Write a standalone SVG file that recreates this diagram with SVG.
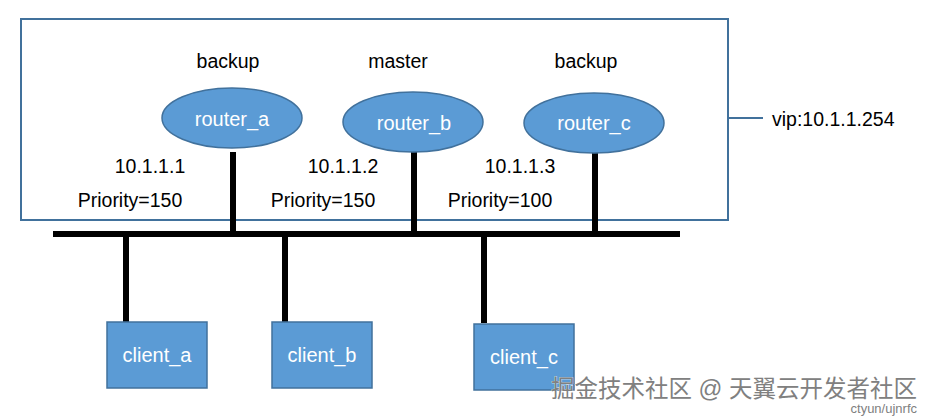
<svg xmlns="http://www.w3.org/2000/svg" width="930" height="416" viewBox="0 0 930 416">
<style>
.t{font-family:"Liberation Sans",Arial,sans-serif;font-size:19.5px;fill:#000}
.w{font-family:"Liberation Sans",Arial,sans-serif;font-size:20px;fill:#fff;text-anchor:middle}
.node{fill:#5b9bd5;stroke:#41719c;stroke-width:1.5}
.wire{stroke:#000;stroke-width:6;fill:none}
.wm{font-family:"Liberation Sans","Noto Sans CJK SC",sans-serif;fill:#808080;stroke:#fff;stroke-width:0.6;paint-order:stroke}
</style>
<rect x="0" y="0" width="930" height="416" fill="#fff"/>
<g id="vrrp-group">
<rect x="21" y="19" width="707" height="201" fill="none" stroke="#41719c" stroke-width="2"/>
<line x1="728" y1="118" x2="763" y2="118" stroke="#41719c" stroke-width="2"/>
<text class="t" x="772" y="126">vip:10.1.1.254</text>
</g>
<g id="connectors">
<line class="wire" x1="53" y1="234" x2="680" y2="234" stroke-width="7"/>
<line class="wire" x1="233" y1="152" x2="233" y2="234"/>
<line class="wire" x1="414" y1="152" x2="414" y2="234"/>
<line class="wire" x1="595" y1="152" x2="595" y2="234"/>
<line class="wire" x1="126" y1="234" x2="126" y2="322"/>
<line class="wire" x1="285" y1="234" x2="285" y2="322"/>
<line class="wire" x1="484" y1="234" x2="484" y2="323"/>
</g>
<g id="router_a">
<text class="t" x="228" y="68" text-anchor="middle">backup</text>
<ellipse class="node" cx="232" cy="118" rx="70" ry="30"/>
<text class="w" x="232" y="126">router_a</text>
<text class="t" x="150" y="173" text-anchor="middle">10.1.1.1</text>
<text class="t" x="130" y="207" text-anchor="middle">Priority=150</text>
</g>
<g id="router_b">
<text class="t" x="398" y="68" text-anchor="middle">master</text>
<ellipse class="node" cx="413" cy="122" rx="70" ry="30"/>
<text class="w" x="414" y="130">router_b</text>
<text class="t" x="343" y="173" text-anchor="middle">10.1.1.2</text>
<text class="t" x="323" y="207" text-anchor="middle">Priority=150</text>
</g>
<g id="router_c">
<text class="t" x="586" y="68" text-anchor="middle">backup</text>
<ellipse class="node" cx="594" cy="123" rx="70" ry="30"/>
<text class="w" x="594" y="130">router_c</text>
<text class="t" x="520" y="173" text-anchor="middle">10.1.1.3</text>
<text class="t" x="500" y="207" text-anchor="middle">Priority=100</text>
</g>
<g id="client_a">
<rect class="node" x="107" y="322" width="100" height="66"/>
<text class="w" x="157" y="362">client_a</text>
</g>
<g id="client_b">
<rect class="node" x="272" y="322" width="100" height="66"/>
<text class="w" x="322" y="362">client_b</text>
</g>
<g id="client_c">
<rect class="node" x="474" y="324" width="100" height="66"/>
<text class="w" x="524" y="364">client_c</text>
</g>
<g id="watermark">
<text class="wm" x="917" y="397" font-size="23.5" text-anchor="end">掘金技术社区 @ 天翼云开发者社区</text>
<text class="wm" x="917" y="413" font-size="13" text-anchor="end">ctyun/ujnrfc</text>
</g>
</svg>
